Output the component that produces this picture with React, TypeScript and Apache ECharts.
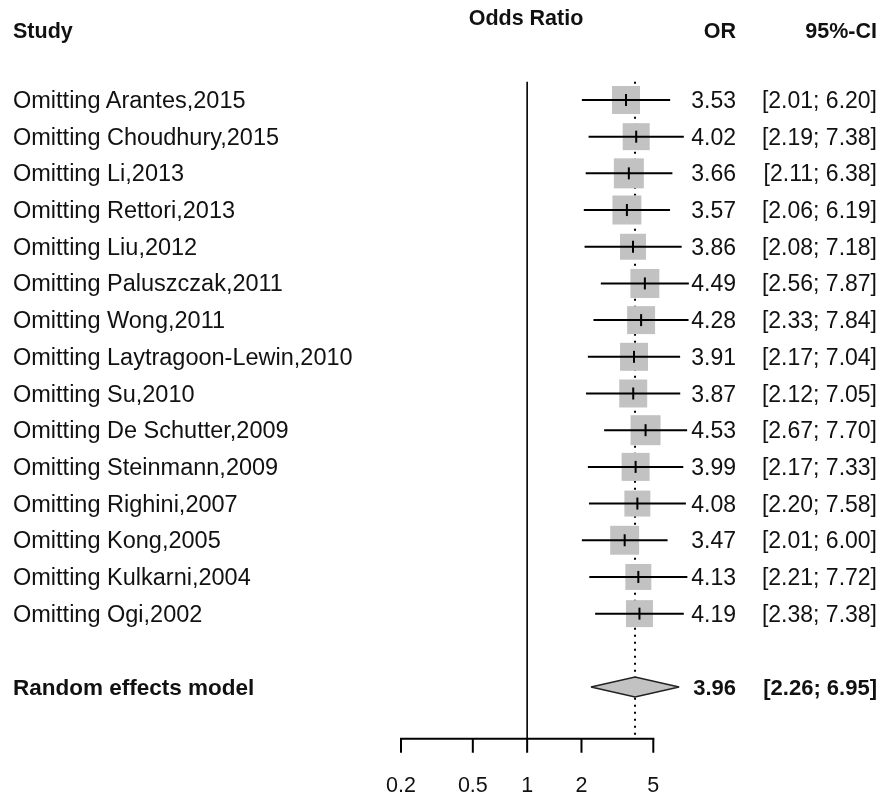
import React, { useEffect, useRef } from 'react';
import * as echarts from 'echarts';

const studies = [
  'Omitting Arantes,2015',
  'Omitting Choudhury,2015',
  'Omitting Li,2013',
  'Omitting Rettori,2013',
  'Omitting Liu,2012',
  'Omitting Paluszczak,2011',
  'Omitting Wong,2011',
  'Omitting Laytragoon-Lewin,2010',
  'Omitting Su,2010',
  'Omitting De Schutter,2009',
  'Omitting Steinmann,2009',
  'Omitting Righini,2007',
  'Omitting Kong,2005',
  'Omitting Kulkarni,2004',
  'Omitting Ogi,2002',
];
const orValues = [3.53, 4.02, 3.66, 3.57, 3.86, 4.49, 4.28, 3.91, 3.87, 4.53, 3.99, 4.08, 3.47, 4.13, 4.19];
const ciLower = [2.01, 2.19, 2.11, 2.06, 2.08, 2.56, 2.33, 2.17, 2.12, 2.67, 2.17, 2.20, 2.01, 2.21, 2.38];
const ciUpper = [6.20, 7.38, 6.38, 6.19, 7.18, 7.87, 7.84, 7.04, 7.05, 7.70, 7.33, 7.58, 6.00, 7.72, 7.38];
// relative study weights (box area)
const weights = [0.87, 0.81, 1.0, 0.93, 0.75, 0.93, 0.87, 0.87, 0.87, 1.0, 0.87, 0.75, 0.93, 0.75, 0.81];

const pooledLabel = 'Random effects model';
const pooledOR = 3.96;
const pooledLower = 2.26;
const pooledUpper = 6.95;

const tickValues = [0.2, 0.5, 1, 2, 5];
const tickLabels = ['0.2', '0.5', '1', '2', '5'];

const headers = { study: 'Study', title: 'Odds Ratio', or: 'OR', ci: '95%-CI' };

export default function App() {
  const ref = useRef<HTMLDivElement>(null);
  useEffect(() => {
    const chart = echarts.init(ref.current!, null, { renderer: 'svg' });
    const FONT = '"Liberation Sans", Arial, Helvetica, sans-serif';
    const FS = 23;
    const TXT = '#111';
    const fmt = (v: number) => v.toFixed(2);
    const ciText = (lo: number, hi: number) => `[${fmt(lo)}; ${fmt(hi)}]`;
    const AXIS_ROW = 17.41;
    const TOP_ROW = -0.5;
    const POOLED_ROW = 16;
    const OR_RIGHT = 736;
    const CI_RIGHT = 877;
    const LABEL_X = 13;

    const txt = (text: string, x: number, y: number, align: string, bold = false, size = FS) => ({
      type: 'text',
      x,
      y,
      style: {
        text,
        fill: TXT,
        fontFamily: FONT,
        fontSize: size,
        fontWeight: bold ? 'bold' : 'normal',
        align,
        verticalAlign: 'middle',
        textAlign: align,
        textVerticalAlign: 'middle',
      },
    });

    chart.setOption({
      animation: false,
      grid: { left: 401, right: 230.7, top: 26.6, bottom: 36.6 },
      xAxis: { type: 'log', logBase: 10, min: 0.2, max: 5, show: false },
      yAxis: { type: 'value', min: -2, max: 18, inverse: true, show: false },
      graphic: [
        txt(headers.title, 526, 18, 'center', true, 21.5),
        txt(headers.study, LABEL_X, 31, 'left', true, 21.5),
        txt(headers.or, OR_RIGHT, 31, 'right', true, 21.5),
        txt(headers.ci, CI_RIGHT, 31, 'right', true, 21.5),
      ],
      series: [
        {
          type: 'custom',
          clip: false,
          z: 1,
          data: [[1, 0], [pooledOR, 1]],
          encode: { x: 0, y: 1 },
          renderItem: (params: any, api: any) => {
            const v = api.value(0);
            const top = api.coord([v, TOP_ROW]);
            const bot = api.coord([v, AXIS_ROW]);
            const dotted = params.dataIndex === 1;
            return {
              type: 'line',
              shape: { x1: top[0], y1: top[1], x2: bot[0], y2: bot[1] },
              style: {
                stroke: '#000',
                lineWidth: dotted ? 2 : 1.6,
                lineDash: dotted ? [2, 5] : null,
              },
            };
          },
        },
        {
          type: 'custom',
          clip: false,
          z: 1,
          data: [[tickValues[0], tickValues[tickValues.length - 1]]],
          encode: { x: [0, 1] },
          renderItem: (params: any, api: any) => {
            const a = api.coord([api.value(0), AXIS_ROW]);
            const b = api.coord([api.value(1), AXIS_ROW]);
            return {
              type: 'line',
              shape: { x1: a[0] - 1, y1: a[1], x2: b[0] + 1, y2: b[1] },
              style: { stroke: '#000', lineWidth: 2 },
            };
          },
        },
        {
          type: 'custom',
          clip: false,
          z: 1,
          data: tickValues.map((v, k) => [v, k]),
          encode: { x: 0 },
          renderItem: (params: any, api: any) => {
            const v = api.value(0);
            const k = api.value(1);
            const p = api.coord([v, AXIS_ROW]);
            return {
              type: 'group',
              children: [
                {
                  type: 'line',
                  shape: { x1: p[0], y1: p[1], x2: p[0], y2: p[1] + 14 },
                  style: { stroke: '#000', lineWidth: 2 },
                },
                txt(tickLabels[k], p[0], p[1] + 46, 'center', false, 21.5),
              ],
            };
          },
        },
        {
          type: 'custom',
          clip: false,
          z: 2,
          data: studies.map((s, i) => [i, orValues[i], ciLower[i], ciUpper[i], weights[i]]),
          encode: { x: 1, y: 0 },
          renderItem: (params: any, api: any) => {
            const i = api.value(0);
            const or = api.value(1);
            const lo = api.value(2);
            const hi = api.value(3);
            const w = api.value(4);
            const c = api.coord([or, i]);
            const l = api.coord([lo, i]);
            const h = api.coord([hi, i]);
            const side = 30 * Math.sqrt(w);
            return {
              type: 'group',
              children: [
                {
                  type: 'rect',
                  shape: { x: c[0] - side / 2, y: c[1] - side / 2, width: side, height: side },
                  style: { fill: '#c2c2c2' },
                },
                {
                  type: 'line',
                  shape: { x1: l[0], y1: c[1], x2: h[0], y2: c[1] },
                  style: { stroke: '#000', lineWidth: 2 },
                },
                {
                  type: 'line',
                  shape: { x1: c[0], y1: c[1] - 6, x2: c[0], y2: c[1] + 6 },
                  style: { stroke: '#000', lineWidth: 2 },
                },
                txt(studies[i], LABEL_X, c[1], 'left', false, 23.5),
                txt(fmt(or), OR_RIGHT, c[1], 'right'),
                txt(ciText(lo, hi), CI_RIGHT, c[1], 'right'),
              ],
            };
          },
        },
        {
          type: 'custom',
          clip: false,
          z: 2,
          data: [[POOLED_ROW, pooledOR, pooledLower, pooledUpper]],
          encode: { x: 1, y: 0 },
          renderItem: (params: any, api: any) => {
            const r = api.value(0);
            const or = api.value(1);
            const lo = api.value(2);
            const hi = api.value(3);
            const c = api.coord([or, r]);
            const l = api.coord([lo, r]);
            const h = api.coord([hi, r]);
            const hh = 10;
            return {
              type: 'group',
              children: [
                {
                  type: 'polygon',
                  shape: {
                    points: [
                      [l[0], c[1]],
                      [c[0], c[1] - hh],
                      [h[0], c[1]],
                      [c[0], c[1] + hh],
                    ],
                  },
                  style: { fill: '#c2c2c2', stroke: '#222', lineWidth: 1.5 },
                },
                txt(pooledLabel, LABEL_X, c[1], 'left', true, 22.5),
                txt(fmt(or), OR_RIGHT, c[1], 'right', true, 22),
                txt(ciText(lo, hi), CI_RIGHT, c[1], 'right', true, 22),
              ],
            };
          },
        },
      ],
    });
    return () => chart.dispose();
  }, []);
  return <div ref={ref} style={{ position: 'fixed', left: 0, top: 0, width: 884, height: 797 }} />;
}
